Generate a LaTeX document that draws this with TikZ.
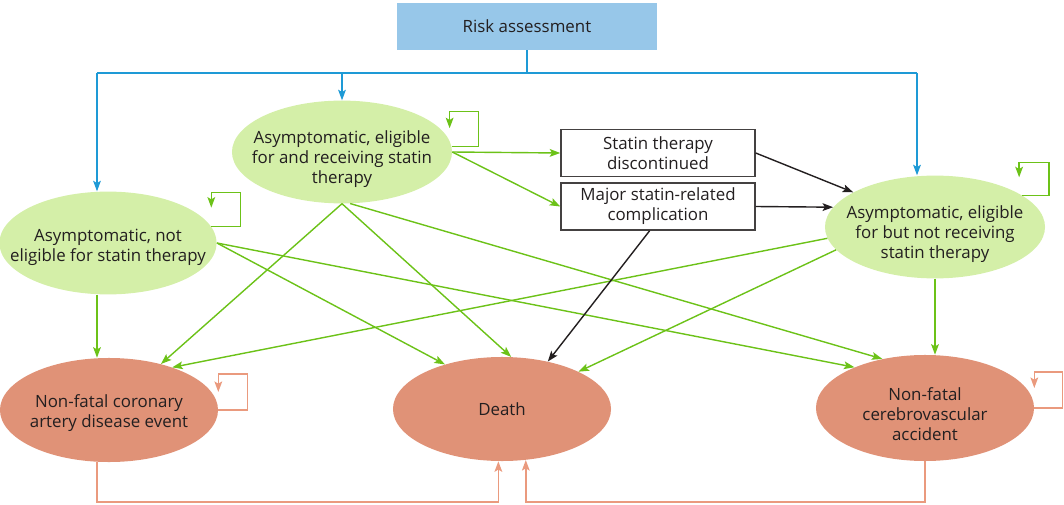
\documentclass[tikz,border=0pt]{standalone}
\usepackage{fontspec}
\setmainfont{Open Sans}
\usetikzlibrary{shapes.geometric,arrows.meta,calc}

\definecolor{stategreen}{HTML}{D4EFA8}
\definecolor{linegreen}{HTML}{6CC218}
\definecolor{endsalmon}{HTML}{E09277}
\definecolor{linesalmon}{HTML}{EA9A7E}
\definecolor{lineblue}{HTML}{1E9AD6}
\definecolor{riskblue}{HTML}{97C7E9}
\definecolor{inkgray}{HTML}{231F20}

\tikzset{
  stxt/.style={align=center,text=inkgray,font=\fontsize{12}{14.2}\selectfont},
  lowtxt/.style={stxt,yshift=-#1*0.025cm},
  state/.style={ellipse,fill=stategreen,inner sep=0pt,minimum width=5.5cm,minimum height=2.57cm},
  endstate/.style={ellipse,fill=endsalmon,inner sep=0pt,minimum width=5.45cm,minimum height=2.6cm},
  eventbox/.style={rectangle,draw=inkgray!85,line width=1pt,fill=white,inner sep=0pt,
    minimum width=4.85cm,minimum height=1.175cm,stxt},
  riskbox/.style={rectangle,fill=riskblue,inner sep=0pt,minimum width=6.5cm,minimum height=1.175cm,stxt},
  flowtip/.style={-{Stealth[length=7.5pt,width=5.5pt,inset=1.6pt]}},
  gline/.style={draw=linegreen,line width=1pt,flowtip},
  kline/.style={draw=inkgray,line width=1pt,flowtip},
  sline/.style={draw=linesalmon,line width=1pt,flowtip},
  bline/.style={draw=lineblue,line width=1pt}
}

\begin{document}
\begin{tikzpicture}[x=0.025cm,y=-0.025cm]
\useasboundingbox (0,0) rectangle (1064,505);

% boxes and states
\node[riskbox] (risk) at (527,26.5) {Risk assessment};
\node[state,label={[lowtxt=7]center:Asymptomatic, eligible\\for and receiving statin\\therapy}] (recv) at (342,152) {};
\node[state,minimum width=5.43cm,label={[lowtxt=4.5]center:Asymptomatic, not\\eligible for statin therapy}] (notel) at (108,243) {};
\node[state,label={[lowtxt=7]center:Asymptomatic, eligible\\for but not receiving\\statin therapy}] (elig) at (935,227) {};
\node[eventbox] (stop) at (658,153) {Statin therapy\\discontinued};
\node[eventbox] (compl) at (658,206.5) {Major statin-related\\complication};
\node[endstate,label={[lowtxt=3.5]center:Non-fatal coronary\\artery disease event}] (cad) at (109,410) {};
\node[endstate,label={[stxt]center:Death}] (death) at (502,409) {};
\node[endstate,minimum height=2.65cm,label={[lowtxt=6]center:Non-fatal\\cerebrovascular\\accident}] (cva) at (925,408) {};

% risk assessment feeds
\coordinate (busL) at (97,73);
\coordinate (busR) at (917,73);
\coordinate (base) at (0,502);
\draw[bline] (risk.south) -- (risk.south |- busL);
\draw[bline] (busL) -- (busR);
\draw[bline,flowtip] (busL) -- (busL |- notel.north);
\draw[bline,flowtip] (recv.north |- busL) -- (recv.north);
\draw[bline,flowtip] (busR) -- (busR |- elig.north);

% self loops
\draw[gline] (recv.3) -| ++(27,-35) -| ++(-29,17);
\draw[gline] (notel.9) -| ++(29,-34) -| ++(-29,15);
\draw[gline] (elig.20) -| ++(27,-33) -| ++(-30,15);
\draw[sline] (cad.east) -| ++(29,-36) -| ++(-29,18);
\draw[sline] (cva.east) -| ++(28,-36) -| ++(-28,16);

% transitions
\draw[gline] (recv.east) -- (stop.west);
\draw[gline] (recv.east) -- (compl.west);
\draw[gline] (notel.south -| busL) -- (cad.north -| busL);
\draw[gline] (recv.south) -- (cad);
\draw[gline] (recv.south) -- (death.80);
\draw[gline] (recv.-81) -- (cva.131);
\draw[gline] (notel.east) -- (death.142);
\draw[gline] (notel.east) -- (cva.150);
\draw[gline] (elig.186) -- (cad.34);
\draw[gline] (elig.193) -- (death.26);
\draw[gline] (elig.south) -- (elig.south |- cva.north);
\draw[kline] (stop.east) -- (elig.157);
\draw[kline] (compl.east) -- (elig.169);
\draw[kline] (compl.-109) -- (death.46);

% back to death
\draw[sline] (cad.south -| busL) -- (busL |- base) -| (death.-94);
\draw[sline] (cva.south) -- (cva.south |- base) -| (death.-65);
\end{tikzpicture}
\end{document}
